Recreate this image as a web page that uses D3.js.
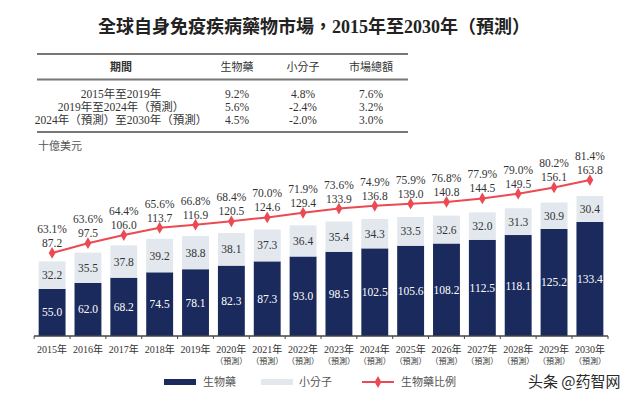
<!DOCTYPE html>
<html>
<head>
<meta charset="utf-8">
<script src="https://cdn.jsdelivr.net/npm/d3@7"></script>
<style>
  body { margin: 0; background: #fff; }
  svg { display: block; }
</style>
</head>
<body>
<div id="chart"></div>
<script>
// Данные
const years = ["2015年", "2016年", "2017年", "2018年", "2019年", "2020年", "2021年", "2022年",
    "2023年", "2024年", "2025年", "2026年", "2027年", "2028年", "2029年", "2030年"];
const forecast = [false, false, false, false, false, true, true, true,
    true, true, true, true, true, true, true, true];
const bioValues = [55.0, 62.0, 68.2, 74.5, 78.1, 82.3, 87.3, 93.0, 98.5, 102.5, 105.6, 108.2, 112.5, 118.1, 125.2, 133.4];
const smallValues = [32.2, 35.5, 37.8, 39.2, 38.8, 38.1, 37.3, 36.4, 35.4, 34.3, 33.5, 32.6, 32.0, 31.3, 30.9, 30.4];
const totalValues = [87.2, 97.5, 106.0, 113.7, 116.9, 120.5, 124.6, 129.4, 133.9, 136.8, 139.0, 140.8, 144.5, 149.5, 156.1, 163.8];
const bioShare = [63.1, 63.6, 64.4, 65.6, 66.8, 68.4, 70.0, 71.9, 73.6, 74.9, 75.9, 76.8, 77.9, 79.0, 80.2, 81.4];

const tableHeader = ["期間", "生物藥", "小分子", "市場總額"];
const periods = ["2015年至2019年", "2019年至2024年（預測）", "2024年（預測）至2030年（預測）"];
const cagrBio = ["9.2%", "5.6%", "4.5%"];
const cagrSmall = ["4.8%", "-2.4%", "-2.0%"];
const cagrTotal = ["7.6%", "3.2%", "3.0%"];

const width = 640, height = 398;
const serif = "'Liberation Serif', 'Noto Sans CJK TC', serif";
const cjk = "'Noto Sans CJK TC', sans-serif";
const navy = "#1b2a5c", light = "#e2e8ee", red = "#ec4a53", textCol = "#333";

const svg = d3.select("#chart").append("svg")
    .attr("width", width).attr("height", height);

// Заголовок
svg.append("text")
    .attr("x", 314).attr("y", 33)
    .attr("text-anchor", "middle")
    .attr("font-family", serif)
    .attr("font-size", 18).attr("font-weight", "bold")
    .attr("fill", "#222")
    .text("全球自身免疫疾病藥物市場，2015年至2030年（預測）");

// Таблица CAGR
const colX = [121, 237, 303, 371];
[54, 79.5, 132].forEach(y => {
    svg.append("line")
        .attr("x1", 37).attr("x2", 408)
        .attr("y1", y).attr("y2", y)
        .attr("stroke", "#777").attr("stroke-width", 2);
});
tableHeader.forEach((h, i) => {
    svg.append("text")
        .attr("x", colX[i]).attr("y", 71)
        .attr("text-anchor", "middle")
        .attr("font-family", cjk).attr("font-size", 11)
        .attr("font-weight", i === 0 ? "bold" : "normal")
        .attr("fill", textCol)
        .text(h);
});
periods.forEach((p, r) => {
    const y = 98 + r * 13;
    const row = [p, cagrBio[r], cagrSmall[r], cagrTotal[r]];
    row.forEach((v, i) => {
        svg.append("text")
            .attr("x", colX[i]).attr("y", y)
            .attr("text-anchor", "middle")
            .attr("font-family", serif).attr("font-size", 11.5)
            .attr("fill", textCol)
            .text(v);
    });
});

// Единицы
svg.append("text")
    .attr("x", 38).attr("y", 150)
    .attr("font-family", cjk).attr("font-size", 11)
    .attr("fill", "#555")
    .text("十億美元");

// Шкалы
const x = d3.scaleBand()
    .domain(years)
    .range([34, 608])
    .paddingInner(0.25)
    .paddingOuter(0.13);
const y = d3.scaleLinear().domain([0, 200]).range([336, 336 - 171]);
const y2 = d3.scaleLinear().domain([0, 200]).range([336, 336 - 190.4]);

const rows = years.map((yr, i) => ({
    year: yr, f: forecast[i], bio: bioValues[i], small: smallValues[i],
    total: totalValues[i], share: bioShare[i]
}));

const g = svg.append("g");

// Столбцы
g.selectAll(".bio").data(rows).enter().append("rect")
    .attr("x", d => x(d.year)).attr("width", x.bandwidth())
    .attr("y", d => y(d.bio)).attr("height", d => y(0) - y(d.bio))
    .attr("fill", navy);
g.selectAll(".small").data(rows).enter().append("rect")
    .attr("x", d => x(d.year)).attr("width", x.bandwidth())
    .attr("y", d => y(d.bio + d.small)).attr("height", d => y(d.bio) - y(d.bio + d.small))
    .attr("fill", light);

// Подписи столбцов
g.selectAll(".bioLbl").data(rows).enter().append("text")
    .attr("x", d => x(d.year) + x.bandwidth() / 2)
    .attr("y", d => (y(0) + y(d.bio)) / 2 + 4)
    .attr("text-anchor", "middle")
    .attr("font-family", serif).attr("font-size", 11.5)
    .attr("fill", "#fff")
    .text(d => d.bio.toFixed(1));
g.selectAll(".smallLbl").data(rows).enter().append("text")
    .attr("x", d => x(d.year) + x.bandwidth() / 2)
    .attr("y", d => (y(d.bio) + y(d.bio + d.small)) / 2 + 4)
    .attr("text-anchor", "middle")
    .attr("font-family", serif).attr("font-size", 11.5)
    .attr("fill", textCol)
    .text(d => d.small.toFixed(1));

// Ось X
g.append("line")
    .attr("x1", 34).attr("x2", 608)
    .attr("y1", 336).attr("y2", 336)
    .attr("stroke", "#444").attr("stroke-width", 1.5);
const gap = (x.step() - x.bandwidth()) / 2;
const tickPos = years.map(d => x(d) - gap).concat([608]);
g.selectAll(".tick").data(tickPos).enter().append("line")
    .attr("x1", d => d).attr("x2", d => d)
    .attr("y1", 336).attr("y2", 339)
    .attr("stroke", "#444").attr("stroke-width", 1);
g.selectAll(".xl").data(rows).enter().append("text")
    .attr("x", d => x(d.year) + x.bandwidth() / 2)
    .attr("y", 353)
    .attr("text-anchor", "middle")
    .attr("font-family", serif).attr("font-size", 10)
    .attr("fill", textCol)
    .text(d => d.year);
g.selectAll(".xf").data(rows.filter(d => d.f)).enter().append("text")
    .attr("x", d => x(d.year) + x.bandwidth() / 2)
    .attr("y", 364)
    .attr("text-anchor", "middle")
    .attr("font-family", cjk).attr("font-size", 8)
    .attr("fill", textCol)
    .text("（預測）");

// Линия доли
const line = d3.line()
    .x(d => x(d.year) + x.bandwidth() / 2)
    .y(d => y2(d.total));
g.append("path").datum(rows)
    .attr("d", line)
    .attr("fill", "none")
    .attr("stroke", red).attr("stroke-width", 2);
const diamond = d3.symbol().type(d3.symbolDiamond).size(40);
g.selectAll(".pt").data(rows).enter().append("path")
    .attr("d", diamond)
    .attr("transform", d => `translate(${x(d.year) + x.bandwidth() / 2},${y2(d.total)})`)
    .attr("fill", red);
g.selectAll(".totLbl").data(rows).enter().append("text")
    .attr("x", d => x(d.year) + x.bandwidth() / 2)
    .attr("y", d => y2(d.total) - 6)
    .attr("text-anchor", "middle")
    .attr("font-family", serif).attr("font-size", 11.5)
    .attr("fill", textCol)
    .text(d => d.total.toFixed(1));
g.selectAll(".shLbl").data(rows).enter().append("text")
    .attr("x", d => x(d.year) + x.bandwidth() / 2)
    .attr("y", d => y2(d.total) - 20)
    .attr("text-anchor", "middle")
    .attr("font-family", serif).attr("font-size", 11.5)
    .attr("fill", textCol)
    .text(d => d.share.toFixed(1) + "%");

// Легенда
const lg = svg.append("g").attr("font-family", cjk).attr("font-size", 11).attr("fill", "#555");
lg.append("rect").attr("x", 164).attr("y", 379).attr("width", 32).attr("height", 6).attr("fill", navy);
lg.append("text").attr("x", 203).attr("y", 386).text("生物藥");
lg.append("rect").attr("x", 261).attr("y", 379).attr("width", 32).attr("height", 6).attr("fill", light);
lg.append("text").attr("x", 299).attr("y", 386).text("小分子");
lg.append("line").attr("x1", 362).attr("x2", 394).attr("y1", 382).attr("y2", 382)
    .attr("stroke", red).attr("stroke-width", 2);
lg.append("path").attr("d", diamond).attr("transform", "translate(378,382)").attr("fill", red);
lg.append("text").attr("x", 401).attr("y", 386).text("生物藥比例");

// Водяной знак
svg.append("text")
    .attr("x", 528).attr("y", 387)
    .attr("font-family", cjk).attr("font-size", 15)
    .attr("fill", "#2a2a2a")
    .attr("stroke", "#fff").attr("stroke-width", 2).attr("paint-order", "stroke")
    .text("头条 @药智网");
</script>
</body>
</html>
